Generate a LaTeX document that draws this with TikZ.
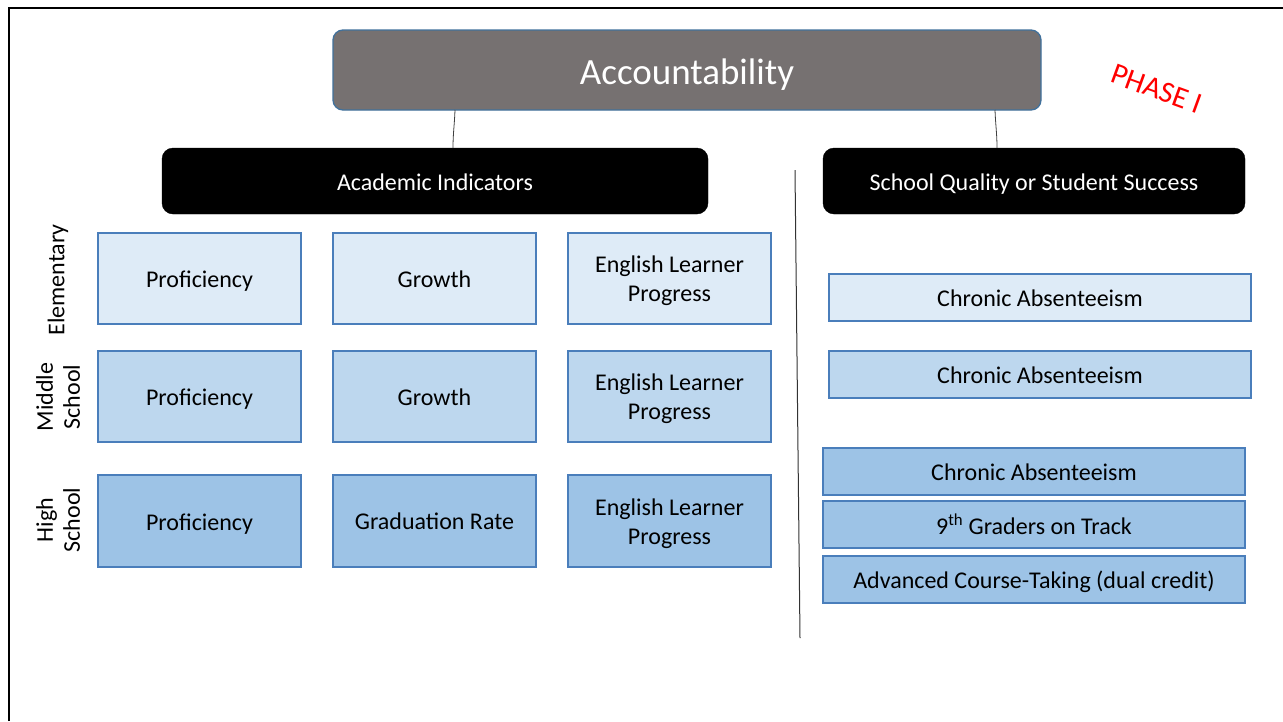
\documentclass[tikz,border=0pt]{standalone}
\usepackage{fontspec}
\setmainfont{Carlito}
\definecolor{accgray}{RGB}{118,113,113}
\definecolor{accblue}{RGB}{65,113,156}
\definecolor{cellA}{RGB}{222,235,247}
\definecolor{cellB}{RGB}{189,215,238}
\definecolor{cellC}{RGB}{157,195,230}
\definecolor{cellborder}{RGB}{74,126,187}
\definecolor{phasered}{RGB}{255,0,0}
\newcommand{\dn}[2]{\raisebox{-#1}[\height][\depth]{#2}}
\newcommand{\twoline}[2]{\dn{3pt}{\begin{tabular}{@{}c@{}}#1\\#2\end{tabular}}}
\begin{document}
\begin{tikzpicture}[x=1pt,y=-1pt,
  every node/.style={inner sep=0pt,outer sep=0pt},
  accbox/.style={rounded corners=10pt,fill=accgray,draw=accblue,line width=1.3pt,text=white,
     minimum width=708pt,minimum height=80pt,font=\fontsize{37}{44}\selectfont},
  hdrbox/.style={rounded corners=11pt,fill=black,draw=black,text=white,
     minimum height=66pt,font=\fontsize{24}{29}\selectfont},
  cellbase/.style={draw=cellborder,line width=1.2pt,align=center,
     font=\fontsize{24}{29}\selectfont},
  cellone/.style={cellbase,fill=cellA},
  celltwo/.style={cellbase,fill=cellB},
  cellthree/.style={cellbase,fill=cellC},
  grid/.style={minimum width=203pt,minimum height=91pt},
  wide/.style={minimum width=422pt,minimum height=47pt},
  lbl/.style={rotate=90,align=center,font=\fontsize{24}{27}\selectfont},
  conn/.style={draw=black!75,line width=0.8pt}
]
\useasboundingbox (0,0) rectangle (1283,721);
\fill[white] (0,0) rectangle (1283,721);
% frame
\draw[line width=2pt] (9,721) -- (9,8) -- (1283,8);

% top
\node[accbox] (acc) at (687,70) {\dn{5pt}{Accountability}};
\node[hdrbox,minimum width=546pt] (ai) at (435,181) {\dn{1pt}{Academic Indicators}};
\node[hdrbox,minimum width=422pt] (sq) at (1034,181) {\dn{3pt}{School Quality or Student Success}};

\draw[conn] ([xshift=122pt]acc.south west) to[out=-92,in=90] ([xshift=291pt]ai.north west);
\draw[conn] ([xshift=662pt]acc.south west) to[out=-88,in=90] ([xshift=174pt]sq.north west);

% divider
\coordinate (dtop) at (795,170);
\coordinate (dbot) at (800,638);
\draw[line width=1pt,black!80] (dtop) -- (dbot);

% row labels
\node[lbl] (lel) at (58,280) {Elementary};
\node[lbl] (lms) at (58,397) {Middle\\School};
\node[lbl] (lhs) at (58,520) {High\\School};

% grid
\node[cellone,grid] (p1) at (199.5,278.5) {\dn{3pt}{Proficiency}};
\node[cellone,grid] (g1) at (434.5,278.5) {\dn{1pt}{Growth}};
\node[cellone,grid] (e1) at (669.5,278.5) {\twoline{English Learner}{Progress}};

\node[celltwo,grid] (p2) at (199.5,396.5) {\dn{3pt}{Proficiency}};
\node[celltwo,grid] (g2) at (434.5,396.5) {\dn{1pt}{Growth}};
\node[celltwo,grid] (e2) at (669.5,396.5) {\twoline{English Learner}{Progress}};

\node[cellthree,grid,minimum height=92pt] (p3) at (199.5,521) {\dn{3pt}{Proficiency}};
\node[cellthree,grid,minimum height=92pt] (g3) at (434.5,521) {Graduation Rate};
\node[cellthree,grid,minimum height=92pt] (e3) at (669.5,521) {\twoline{English Learner}{Progress}};

% right column
\node[cellone,wide] (ca1) at (1040,297.5) {\dn{1pt}{Chronic Absenteeism}};
\node[celltwo,wide] (ca2) at (1040,374.5) {\dn{1pt}{Chronic Absenteeism}};
\node[cellthree,wide] (ca3) at (1034,471.5) {\dn{1pt}{Chronic Absenteeism}};
\node[cellthree,wide] (nin) at (1034,524.5) {9\textsuperscript{th} Graders on Track};
\node[cellthree,wide] (adv) at (1034,579.5) {\dn{2pt}{Advanced Course-Taking (dual credit)}};

% phase
\node[rotate=-20,text=phasered,font=\fontsize{30}{34}\selectfont] (ph) at (1157,89) {PHASE I};
\end{tikzpicture}
\end{document}
